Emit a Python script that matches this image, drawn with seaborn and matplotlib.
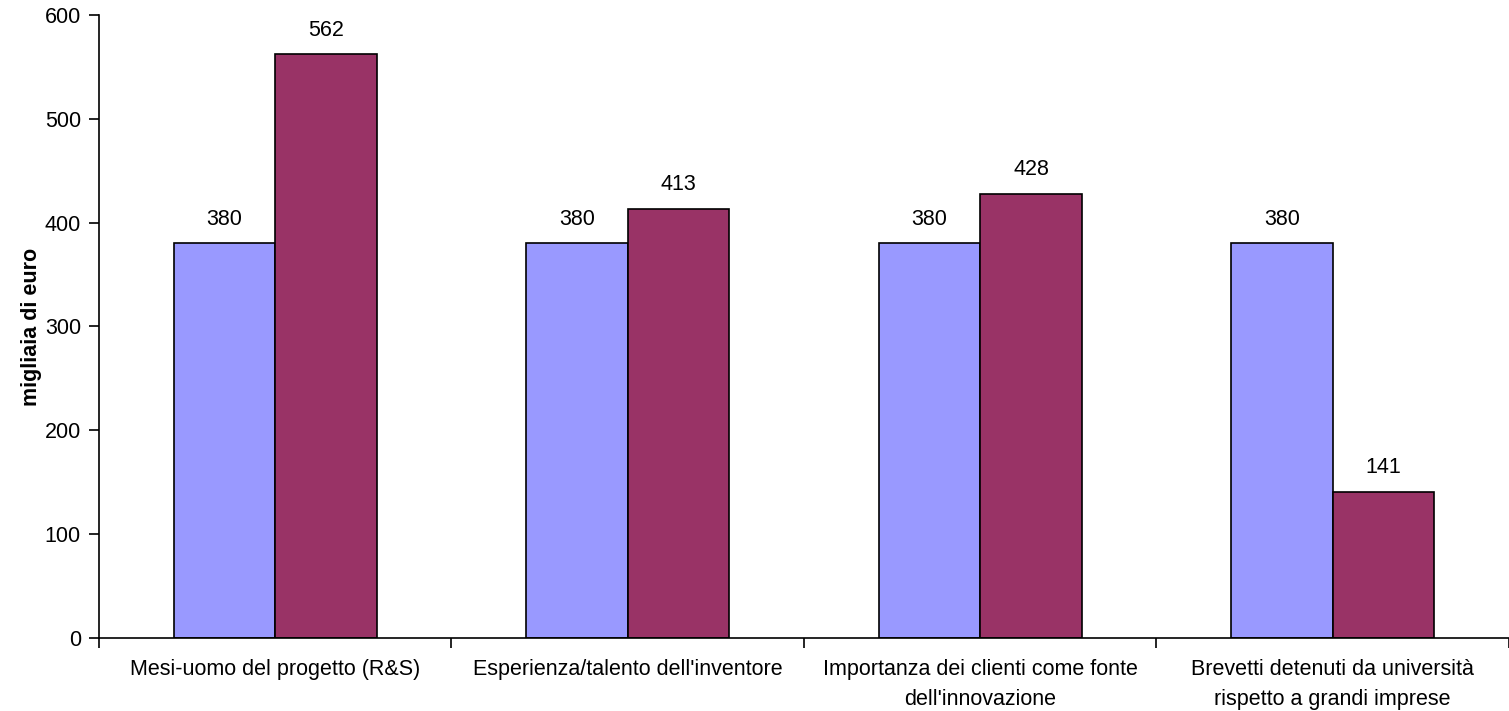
import matplotlib
matplotlib.use("Agg")
import matplotlib.pyplot as plt
import seaborn as sns
import pandas as pd
from matplotlib.ticker import FixedLocator, NullFormatter

categories = [
    "Mesi-uomo del progetto (R&S)",
    "Esperienza/talento dell'inventore",
    "Importanza dei clienti come fonte\ndell'innovazione",
    "Brevetti detenuti da università\nrispetto a grandi imprese",
]
series_names = ["Base", "Variazione"]
base_values = [380, 380, 380, 380]
variant_values = [562, 413, 428, 141]
yticks = [0, 100, 200, 300, 400, 500, 600]
colors = ["#9999FF", "#993366"]

df = pd.DataFrame({
    "categoria": categories * 2,
    "serie": [series_names[0]] * 4 + [series_names[1]] * 4,
    "valore": base_values + variant_values,
})

sns.set_theme(style="white")
plt.rcParams["font.family"] = ["Liberation Sans", "DejaVu Sans"]
plt.rcParams["text.color"] = "black"
plt.rcParams["axes.labelcolor"] = "black"
plt.rcParams["xtick.color"] = "black"
plt.rcParams["ytick.color"] = "black"

FS = 15.5

fig = plt.figure(figsize=(15.09, 7.11), dpi=100)
ax = fig.add_axes([0.0656, 0.1027, 0.9344, 0.8762])

sns.barplot(data=df, x="categoria", y="valore", hue="serie", order=categories,
            hue_order=series_names, palette=colors, width=0.576, dodge=True,
            edgecolor="black", linewidth=1.2, saturation=1, legend=False, ax=ax,
            errorbar=None)

for cont in ax.containers:
    ax.bar_label(cont, labels=[f"{v:.0f}" for v in cont.datavalues],
                 padding=10, fontsize=FS, color="black")

ax.set_ylim(0, 600)
ax.set_xlim(-0.5, len(categories) - 0.5)
ax.set_yticks(yticks)
ax.set_yticklabels([str(t) for t in yticks], fontsize=FS)

# category labels on minor ticks, separators on major ticks
ax.xaxis.set_major_locator(FixedLocator([i - 0.5 for i in range(len(categories) + 1)]))
ax.xaxis.set_major_formatter(NullFormatter())
ax.xaxis.set_minor_locator(FixedLocator(list(range(len(categories)))))
ax.set_xticklabels(categories, minor=True, fontsize=FS, ha="center", linespacing=1.6)
ax.tick_params(axis="x", which="minor", length=0, pad=15)
ax.tick_params(axis="x", which="major", length=7, width=1.2, direction="out", bottom=True)
ax.tick_params(axis="y", length=7, width=1.2, direction="out", left=True, pad=6)

ax.set_xlabel("")
ax.set_ylabel("migliaia di euro", fontsize=FS, fontweight="bold", labelpad=2)

for side in ["top", "right"]:
    ax.spines[side].set_visible(False)
for side in ["left", "bottom"]:
    ax.spines[side].set_color("black")
    ax.spines[side].set_linewidth(1.2)

fig.savefig("out.png", dpi=100)
